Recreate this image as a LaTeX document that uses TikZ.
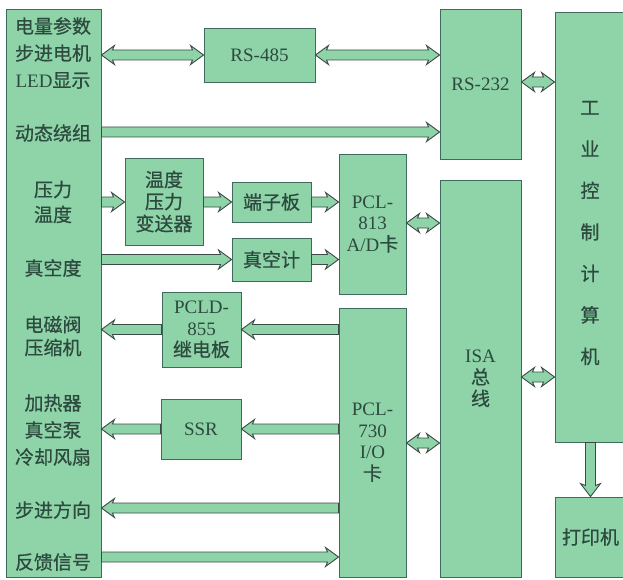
\documentclass[tikz,border=0pt]{standalone}
\usepackage{fontspec}
\setmainfont{Noto Sans CJK SC}[RawFeature={embolden=0.6}]
\newfontfamily\lat{Liberation Serif}
\usetikzlibrary{calc}
\definecolor{boxfill}{HTML}{8FD4A9}
\definecolor{boxline}{HTML}{3E6B5C}
\definecolor{txt}{HTML}{2C4A3E}
\definecolor{arrline}{HTML}{3A4A44}
\tikzset{
 box/.style={draw=boxline, line width=0.9pt, fill=boxfill, inner sep=0pt, text=txt, align=center, font=\fontsize{19}{21.5}\selectfont},
 blk/.style={draw=arrline, line width=0.9pt, fill=boxfill, line join=miter},
 lbl/.style={text=txt, align=center, inner sep=0pt, font=\fontsize{19}{27}\selectfont},
}
% single horizontal block arrow from #1 to #2
\newcommand\HArr[2]{\path[blk] let \p1=(#1), \p2=(#2), \n1={(\x2>\x1)?1:-1} in
 (\x1,\y1+5pt) -- ({\x2-(\n1)*11pt},\y1+5pt) -- ({\x2-(\n1)*13pt},\y1+9.5pt) -- (\x2,\y1)
 -- ({\x2-(\n1)*13pt},\y1-9.5pt) -- ({\x2-(\n1)*11pt},\y1-5pt) -- (\x1,\y1-5pt) -- cycle;}
% double horizontal block arrow between #1 and #2
\newcommand\DArr[2]{\path[blk] let \p1=(#1), \p2=(#2), \n1={(\x2>\x1)?1:-1} in
 (\x1,\y1) -- ({\x1+(\n1)*13pt},\y1+9.5pt) -- ({\x1+(\n1)*11pt},\y1+5pt) -- ({\x2-(\n1)*11pt},\y1+5pt)
 -- ({\x2-(\n1)*13pt},\y1+9.5pt) -- (\x2,\y1) -- ({\x2-(\n1)*13pt},\y1-9.5pt) -- ({\x2-(\n1)*11pt},\y1-5pt)
 -- ({\x1+(\n1)*11pt},\y1-5pt) -- ({\x1+(\n1)*13pt},\y1-9.5pt) -- cycle;}
% single vertical block arrow from #1 to #2
\newcommand\VArr[2]{\path[blk] let \p1=(#1), \p2=(#2), \n1={(\y2>\y1)?1:-1} in
 (\x1+5pt,\y1) -- (\x1+5pt,{\y2-(\n1)*11pt}) -- (\x1+10pt,{\y2-(\n1)*13pt}) -- (\x1,\y2)
 -- (\x1-10pt,{\y2-(\n1)*13pt}) -- (\x1-5pt,{\y2-(\n1)*11pt}) -- (\x1-5pt,\y1) -- cycle;}
\begin{document}
\begin{tikzpicture}[x=1pt,y=-1pt]
\useasboundingbox (0,0) rectangle (623,580);
\clip (0,0) rectangle (623,580);
\fill[white] (0,0) rectangle (623,580);
% boxes
\node[box, minimum width=95pt, minimum height=568pt] (left) at (53.5,293) {};
\node[box, minimum width=111pt, minimum height=54pt] (rs485) at (259.5,55) {\lat RS-485};
\node[box, minimum width=81pt, minimum height=150pt] (rs232) at (480.5,84) {\lat RS-232};
\node[box, minimum width=71pt, minimum height=430pt] (pc) at (590.5,227) {};
\node[box, minimum width=71pt, minimum height=80pt] (printer) at (590.5,537) {打印机};
\node[box, minimum width=81pt, minimum height=397pt] (isa) at (480.5,378.5) {{\lat ISA}\\总\\线};
\node[box, minimum width=67pt, minimum height=140pt] (pcl813) at (372.5,224) {{\lat PCL-}\\{\lat 813}\\{\lat A/D}卡};
\node[box, minimum width=67pt, minimum height=269pt] (pcl730) at (372.5,442.5) {{\lat PCL-}\\{\lat 730}\\{\lat I/O}\\卡};
\node[box, minimum width=78pt, minimum height=87pt, font=\fontsize{19}{22}\selectfont] (trans) at (164,201.5) {温度\\压力\\变送器};
\node[box, minimum width=79pt, minimum height=40pt] (term) at (271.5,202) {端子板};
\node[box, minimum width=79pt, minimum height=43pt] (vac) at (271.5,259.5) {真空计};
\node[box, minimum width=79pt, minimum height=75pt] (pcld) at (201.5,329.5) {{\lat PCLD-}\\{\lat 855}\\继电板};
\node[box, minimum width=80pt, minimum height=60pt] (ssr) at (201,429) {\lat SSR};
% labels
\node[lbl] (t1) at (53,53) {电量参数\\步进电机\\{\lat LED}显示};
\node[lbl] (t2) at (53,133) {动态绕组};
\node[lbl, font=\fontsize{19}{25}\selectfont] (t3) at (53,202) {压力\\温度};
\node[lbl] (t4) at (53,268) {真空度};
\node[lbl, font=\fontsize{19}{23}\selectfont] (t5) at (53,336) {电磁阀\\压缩机};
\node[lbl] (t6) at (53,430) {加热器\\真空泵\\冷却风扇};
\node[lbl] (t7) at (53,510) {步进方向};
\node[lbl] (t8) at (53,562) {反馈信号};
\node[lbl, font=\fontsize{19}{41.5}\selectfont] (pct) at (590,233) {工\\业\\控\\制\\计\\算\\机};
% arrows
\DArr{left.east |- rs485.west}{rs485.west}
\DArr{rs485.east}{rs232.west |- rs485.east}
\HArr{left.east |- 0,132}{rs232.west |- 0,132}
\DArr{rs232.east |- 0,82}{pc.west |- 0,82}
\HArr{left.east |- 0,202}{trans.west |- 0,202}
\HArr{trans.east |- term.west}{term.west}
\HArr{term.east}{pcl813.west |- term.east}
\HArr{left.east |- vac.west}{vac.west}
\HArr{vac.east}{pcl813.west |- vac.east}
\DArr{pcl813.east |- 0,223}{isa.west |- 0,223}
\HArr{pcld.west}{left.east |- pcld.west}
\HArr{pcl730.west |- pcld.east}{pcld.east}
\HArr{ssr.west}{left.east |- ssr.west}
\HArr{pcl730.west |- ssr.east}{ssr.east}
\HArr{pcl730.west |- 0,508}{left.east |- 0,508}
\HArr{left.east |- 0,557}{pcl730.west |- 0,557}
\DArr{pcl730.east |- 0,443}{isa.west |- 0,443}
\DArr{isa.east |- 0,377}{pc.west |- 0,377}
\VArr{pc.south}{printer.north}
\end{tikzpicture}
\end{document}
